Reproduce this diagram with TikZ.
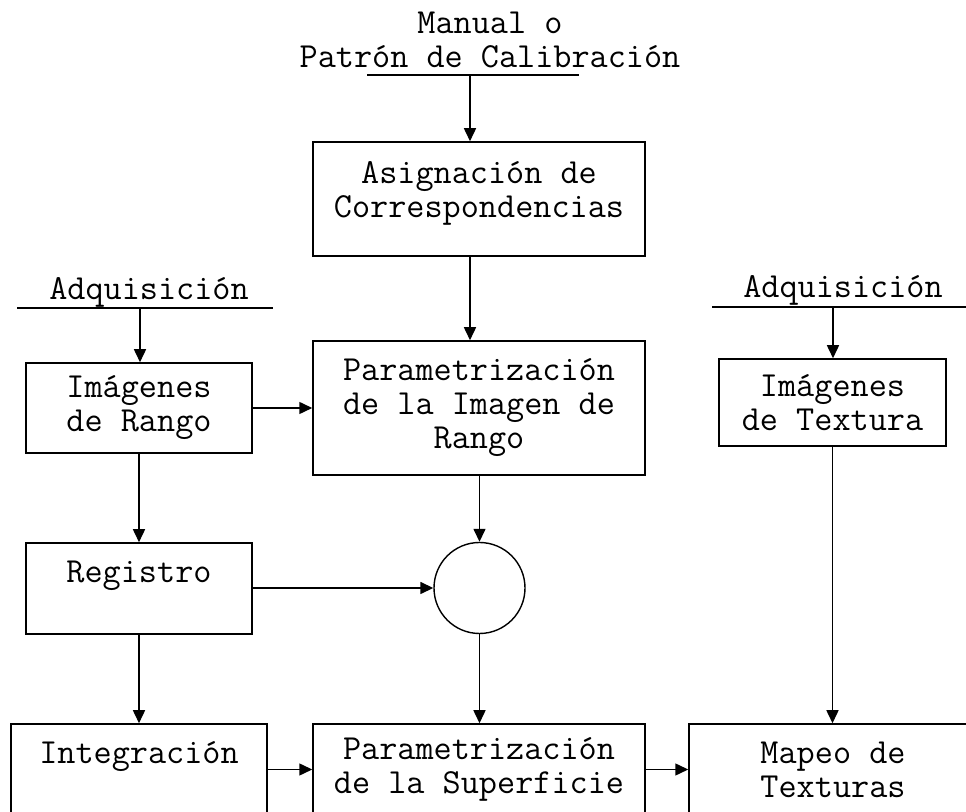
\documentclass[tikz,border=0pt]{standalone}
\usepackage{fontspec}
\usetikzlibrary{arrows.meta}

\begin{document}
\begin{tikzpicture}[x=0.5pt, y=-0.5pt,
			box/.style={rectangle, draw, line width=0.75pt, align=center, inner sep=0pt},
			flow/.style={-{Triangle[length=6.5pt,width=6pt]}, line width=0.75pt},
			bar/.style={line width=0.75pt}]
		\tikzstyle{every node}=[font=\ttfamily\fontsize{17.6}{17}\selectfont]
		\useasboundingbox (0,0) rectangle (966,812);
		\clip (0,0) rectangle (966,812);

			% entradas
			\node[align=center] (Manual) at (490,40) {Manual o\\Patrón de Calibración};
			\node (AdqL) at (149,292) {Adquisición};
			\node (AdqR) at (843,290) {Adquisición};
			\coordinate (m1) at (367,75);  \coordinate (m2) at (579,75);  \coordinate (min) at (470,75);
			\coordinate (l1) at (17,308);  \coordinate (l2) at (273,308);  \coordinate (lin) at (140,308);
			\coordinate (r1) at (712,307); \coordinate (r2) at (980,307); \coordinate (rin) at (833,307);

			% bloques
			\node[box, minimum width=166pt, minimum height=57pt] (Asig) at (479,199) {Asignación de\\Correspondencias\\[-8pt]};
			\node[box, minimum width=166pt, minimum height=67pt] (ParamImg) at (479,408) {Parametrización\\de la Imagen de\\Rango};
			\node[box, minimum width=113pt, minimum height=45pt] (ImgRango) at (139,408) {Imágenes\\de Rango};
			\node[box, minimum width=113pt, minimum height=45.5pt] (Registro) at (139,588.5) {Registro\\\mbox{}};
			\node[box, minimum width=113.5pt, minimum height=43.5pt] (ImgText) at (832.5,402.5) {Imágenes\\de Textura};
			\node[circle, draw, line width=0.7pt, minimum size=45.5pt, inner sep=0pt] (Suma) at (479.5,588) {};
			\node[box, minimum width=128pt, minimum height=45.5pt] (Integ) at (139,769.5) {Integración\\\mbox{}};
			\node[box, minimum width=166pt, minimum height=45.5pt] (ParamSup) at (479,769.5) {Parametrización\\de la Superficie};
			\node[box, minimum width=144pt, minimum height=45.5pt] (Mapeo) at (833,769.5) {Mapeo de\\Texturas};

			% conexiones
			\draw[bar] (m1) -- (m2);
			\draw[bar] (l1) -- (l2);
			\draw[bar] (r1) -- (r2);
			\draw[flow] (min) -- (min |- Asig.north);
			\draw[flow] (min |- Asig.south) -- (min |- ParamImg.north);
			\draw[flow] (lin) -- (lin |- ImgRango.north);
			\draw[flow] (rin) -- (rin |- ImgText.north);
			\draw[flow] (ImgRango.east) -- (ParamImg.west |- ImgRango.east);
			\draw[flow] (ImgRango.south) -- (Registro.north);
			\draw[flow] (Registro.east |- Suma.west) -- (Suma.west);
			\draw[flow] (Suma.north |- ParamImg.south) -- (Suma.north);
			\draw[flow] (Suma.south) -- (Suma.south |- ParamSup.north);
			\draw[flow] (Registro.south) -- (Registro.south |- Integ.north);
			\draw[flow] (Integ.east) -- (ParamSup.west);
			\draw[flow] (ParamSup.east) -- (Mapeo.west);
			\draw[flow] (ImgText.south) -- (ImgText.south |- Mapeo.north);

		\end{tikzpicture}
\end{document}
